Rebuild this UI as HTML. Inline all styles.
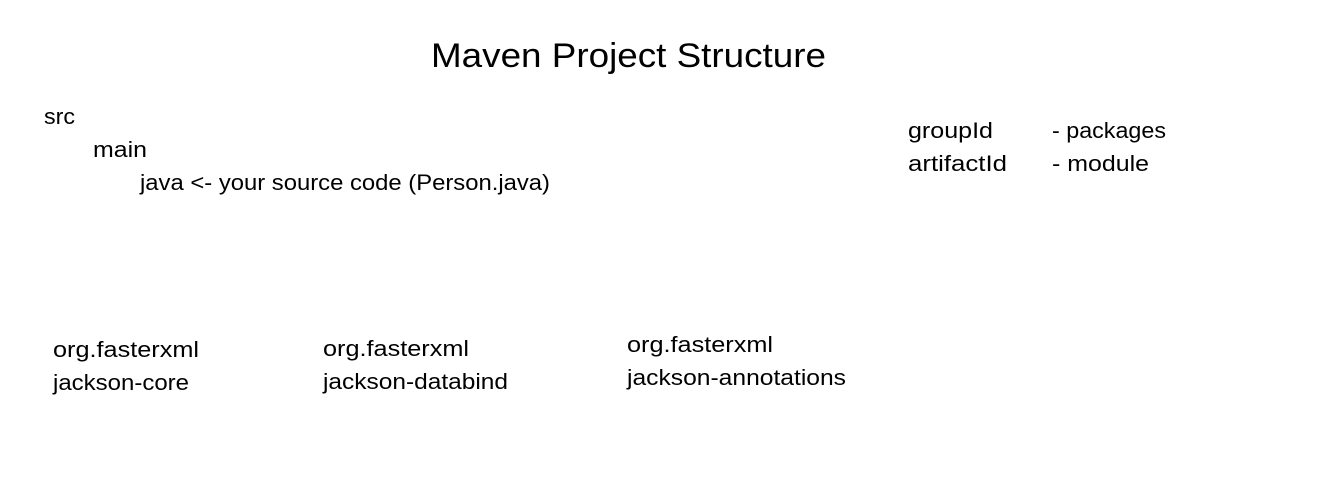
<!DOCTYPE html>
<html><head><meta charset="utf-8"><style>
html,body{margin:0;padding:0;background:#fff;width:1338px;height:489px;overflow:hidden}
svg{display:block}
text{font-family:"Liberation Sans",sans-serif;fill:#000}
</style></head><body>
<svg width="1338" height="489" viewBox="0 0 1338 489">
<text x="431" y="67" font-size="34" textLength="395" lengthAdjust="spacingAndGlyphs">Maven Project Structure</text>
<text x="44" y="124" font-size="22" textLength="31" lengthAdjust="spacingAndGlyphs">src</text>
<text x="93" y="157" font-size="22" textLength="54" lengthAdjust="spacingAndGlyphs">main</text>
<text x="140" y="190" font-size="22" textLength="410" lengthAdjust="spacingAndGlyphs">java &lt;- your source code (Person.java)</text>
<text x="908" y="138" font-size="22" textLength="85" lengthAdjust="spacingAndGlyphs">groupId</text>
<text x="1052" y="138" font-size="22" textLength="114" lengthAdjust="spacingAndGlyphs">- packages</text>
<text x="908" y="171" font-size="22" textLength="99" lengthAdjust="spacingAndGlyphs">artifactId</text>
<text x="1052" y="171" font-size="22" textLength="97" lengthAdjust="spacingAndGlyphs">- module</text>
<text x="53" y="357" font-size="22" textLength="146" lengthAdjust="spacingAndGlyphs">org.fasterxml</text>
<text x="53" y="390" font-size="22" textLength="136" lengthAdjust="spacingAndGlyphs">jackson-core</text>
<text x="323" y="356" font-size="22" textLength="146" lengthAdjust="spacingAndGlyphs">org.fasterxml</text>
<text x="323" y="389" font-size="22" textLength="185" lengthAdjust="spacingAndGlyphs">jackson-databind</text>
<text x="627" y="352" font-size="22" textLength="146" lengthAdjust="spacingAndGlyphs">org.fasterxml</text>
<text x="627" y="385" font-size="22" textLength="219" lengthAdjust="spacingAndGlyphs">jackson-annotations</text>
</svg>
</body></html>
